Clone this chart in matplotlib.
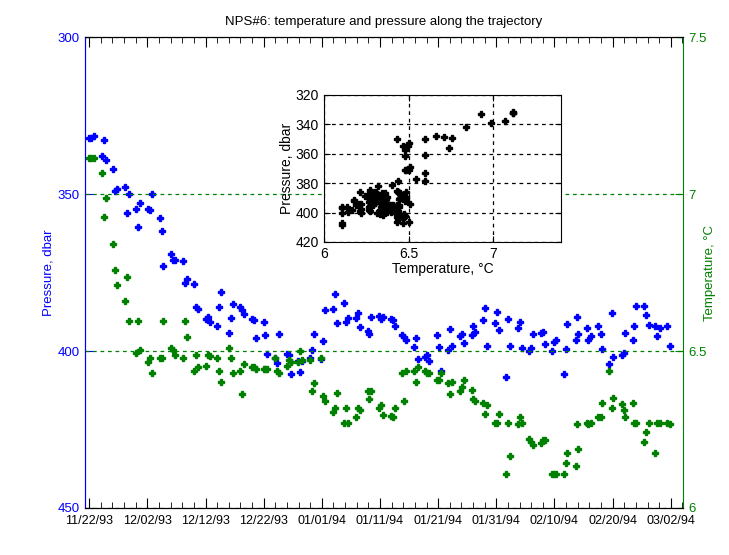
import matplotlib
matplotlib.use("Agg")
import matplotlib.pyplot as plt
import matplotlib.dates as mdates
from matplotlib.ticker import FixedLocator
from datetime import datetime

plt.rcParams["font.family"] = ["Liberation Sans", "DejaVu Sans"]

BLUE = "#0000ff"
GREEN = "#008000"

start = mdates.date2num(datetime(1993, 11, 22))

# days since 11/22/93
days = [0.00, 0.33, 0.77, 2.15, 2.49, 2.84, 4.04, 4.38, 4.73, 6.10,
        6.45, 6.79, 7.99, 8.34, 8.68, 10.05, 10.40, 10.74, 12.12, 12.46,
        12.63, 14.01, 14.35, 14.70, 16.07, 16.41, 16.76, 17.96, 18.31, 18.65,
        20.02, 20.37, 20.71, 21.91, 22.26, 22.60, 23.98, 24.32, 24.66, 25.87,
        26.21, 26.56, 27.93, 28.27, 28.62, 29.99, 30.20, 30.51, 31.88, 32.23,
        32.57, 33.95, 34.29, 34.63, 35.84, 36.18, 36.52, 37.90, 38.24, 38.59,
        39.79, 40.13, 40.48, 41.85, 42.20, 42.54, 43.74, 44.09, 44.43, 45.81,
        46.15, 46.49, 47.87, 48.04, 48.38, 49.76, 50.10, 50.45, 51.82, 52.17,
        52.51, 53.71, 54.06, 54.40, 55.78, 56.12, 56.46, 57.67, 58.01, 58.35,
        59.73, 60.07, 60.42, 61.62, 61.96, 62.31, 63.68, 64.03, 64.37, 65.74,
        65.92, 66.26, 67.63, 67.98, 68.32, 69.70, 70.04, 70.38, 71.59, 71.93,
        72.27, 73.65, 73.99, 74.34, 75.54, 75.88, 76.23, 77.60, 77.95, 78.29,
        79.49, 79.84, 80.18, 81.56, 81.90, 82.24, 83.62, 83.79, 84.13, 85.51,
        85.85, 86.20, 87.57, 87.92, 88.09, 89.46, 89.81, 90.15, 91.53, 91.87,
        92.21, 93.42, 93.76, 94.10, 95.48, 95.82, 96.17, 97.37, 97.71, 98.06,
        99.43, 99.78]

pressure = [332.2, 332.2, 331.5, 337.9, 332.8, 339.2, 342.0, 349.0, 348.4, 347.8,
            356.1, 350.0, 354.8, 360.5, 352.9, 354.8, 355.1, 350.0, 357.6, 361.8,
            372.9, 369.1, 371.0, 371.0, 371.3, 378.3, 377.1, 378.7, 386.0, 386.6,
            389.8, 389.2, 390.8, 392.0, 386.0, 381.2, 394.3, 389.5, 385.0, 386.0,
            386.9, 388.2, 389.8, 390.1, 395.9, 390.8, 394.9, 401.0, 402.2, 403.8,
            394.6, 401.0, 401.3, 407.3, 403.2, 406.7, 403.2, 402.2, 399.7, 394.6,
            402.5, 396.8, 386.9, 386.6, 381.8, 391.1, 384.7, 390.8, 389.5, 389.5,
            387.9, 392.4, 393.6, 394.6, 389.2, 388.9, 389.8, 389.2, 389.8, 390.1,
            392.0, 394.9, 395.5, 396.5, 398.7, 395.9, 402.5, 401.9, 401.3, 403.2,
            394.9, 398.7, 406.4, 399.7, 393.0, 398.4, 395.2, 394.6, 397.5, 394.9,
            392.0, 393.9, 390.1, 386.3, 398.4, 391.1, 387.6, 393.3, 408.3, 389.8,
            398.4, 392.7, 390.8, 399.0, 400.0, 399.0, 394.6, 394.3, 393.9, 397.8,
            400.0, 397.1, 396.5, 407.3, 399.4, 391.4, 396.5, 389.2, 394.6, 392.7,
            396.5, 395.2, 392.0, 394.6, 399.4, 404.1, 387.9, 401.9, 401.3, 400.6,
            394.3, 396.5, 392.0, 385.7, 385.7, 388.5, 391.7, 392.0, 395.2, 392.7,
            392.0, 398.4]

temperature = [7.115, 7.115, 7.115, 7.067, 6.927, 6.987, 6.841, 6.758, 6.710, 6.659,
               6.736, 6.596, 6.494, 6.596, 6.504, 6.465, 6.478, 6.430, 6.478, 6.478,
               6.596, 6.510, 6.503, 6.487, 6.478, 6.596, 6.545, 6.436, 6.487, 6.449,
               6.452, 6.487, 6.484, 6.478, 6.436, 6.401, 6.510, 6.478, 6.430, 6.436,
               6.363, 6.459, 6.449, 6.449, 6.443, 6.443, 6.443, 6.443, 6.478, 6.436,
               6.430, 6.452, 6.471, 6.465, 6.465, 6.500, 6.471, 6.471, 6.373, 6.398,
               6.478, 6.357, 6.341, 6.306, 6.318, 6.366, 6.271, 6.318, 6.271, 6.290,
               6.318, 6.312, 6.373, 6.347, 6.373, 6.318, 6.328, 6.296, 6.293, 6.290,
               6.318, 6.430, 6.341, 6.436, 6.436, 6.401, 6.449, 6.436, 6.430, 6.430,
               6.408, 6.408, 6.430, 6.398, 6.363, 6.401, 6.373, 6.385, 6.408, 6.376,
               6.347, 6.341, 6.334, 6.299, 6.329, 6.271, 6.271, 6.299, 6.108, 6.271,
               6.166, 6.268, 6.290, 6.271, 6.220, 6.210, 6.201, 6.207, 6.217, 6.217,
               6.108, 6.108, 6.108, 6.108, 6.143, 6.175, 6.134, 6.268, 6.188, 6.271,
               6.268, 6.271, 6.290, 6.290, 6.334, 6.436, 6.318, 6.350, 6.331, 6.312,
               6.290, 6.334, 6.271, 6.271, 6.210, 6.242, 6.271, 6.175, 6.271, 6.271,
               6.271, 6.268]

major_days = list(range(0, 101, 10))
minor_days = list(range(0, 103, 2))
p_ticks = [300, 350, 400, 450]
t_ticks = [6, 6.5, 7, 7.5]

t = [start + d for d in days]

fig = plt.figure(figsize=(7.29, 5.55), dpi=100)
ax = fig.add_axes([0.1166, 0.0847, 0.8203, 0.8486])
ax2 = ax.twinx()

ax.plot(t, pressure, ls="none", marker="P", ms=4.2, color=BLUE, mec=BLUE)
ax2.plot(t, temperature, ls="none", marker="P", ms=4.2, color=GREEN, mec=GREEN)

ax.set_xlim(start - 0.72, start + 102.1)
ax.set_ylim(450, 300)
ax2.set_ylim(6, 7.5)
ax.set_yticks(p_ticks)
ax2.set_yticks(t_ticks)
ax2.set_yticklabels(["6", "6.5", "7", "7.5"])

ax.xaxis.set_major_locator(FixedLocator([start + d for d in major_days]))
ax.xaxis.set_minor_locator(FixedLocator([start + d for d in minor_days]))
ax.xaxis.set_major_formatter(mdates.DateFormatter("%m/%d/%y"))

ax.tick_params(axis="x", which="major", direction="in", length=7, top=True,
               labelsize=9, pad=5, colors="black")
ax.tick_params(axis="x", which="minor", direction="in", length=4, top=True)
ax.tick_params(axis="y", direction="in", length=6, colors=BLUE, labelsize=9.5, pad=4)
ax2.tick_params(axis="y", direction="in", length=6, colors=GREEN, labelsize=9.5, pad=4)

ax.spines["left"].set_color(BLUE)
ax2.spines["left"].set_color(BLUE)
ax2.spines["right"].set_color(GREEN)
ax.spines["right"].set_visible(False)
for a in (ax, ax2):
    a.spines["top"].set_color("black")
    a.spines["bottom"].set_color("black")

ax2.yaxis.grid(True, color=GREEN, ls=(0, (3, 3)), lw=0.9)

ax.set_ylabel("Pressure, dbar", color=BLUE, fontsize=9.5, labelpad=2)
ax2.set_ylabel("Temperature, \u00b0C", color=GREEN, fontsize=9.5, labelpad=-2)
ax.set_title("NPS#6: temperature and pressure along the trajectory", fontsize=9.5, pad=9)

# inset: pressure against temperature
ins = fig.add_axes([0.4444, 0.5640, 0.3251, 0.2649])
ins.plot(temperature, pressure, ls="none", marker="P", ms=4.2, color="black")
ins.set_xlim(6, 7.4)
ins.set_ylim(420, 320)
ins.set_xticks([6, 6.5, 7])
ins.set_xticklabels(["6", "6.5", "7"])
ins.set_yticks([320, 340, 360, 380, 400, 420])
ins.grid(True, color="black", ls=(0, (3, 3)), lw=0.9)
ins.tick_params(direction="in", length=4, labelsize=10, top=True, right=True)
ins.set_xlabel("Temperature, \u00b0C", fontsize=10, labelpad=1)
ins.set_ylabel("Pressure, dbar", fontsize=10, labelpad=1)

fig.savefig("out.png", dpi=100)
